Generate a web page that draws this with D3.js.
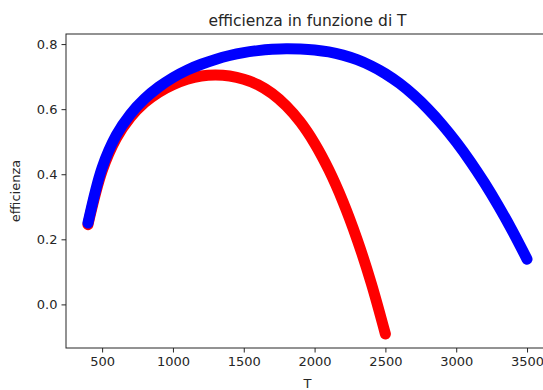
<!DOCTYPE html>
<html>
<head>
<meta charset="utf-8">
<script src="https://cdn.jsdelivr.net/npm/d3@7"></script>
<style>
  body { margin: 0; background: #fff; }
  svg { font-family: "DejaVu Sans", sans-serif; }
</style>
</head>
<body>
<svg id="chart"></svg>
<script>
// temperature samples (x) and efficiency
var tRed  = [400, 500, 600, 700, 800, 900, 1000, 1100, 1200, 1300, 1400, 1500, 1600, 1700, 1800, 1900, 2000, 2100, 2200, 2300, 2400, 2500];
var effRed = [0.245, 0.41, 0.51, 0.575, 0.62, 0.652, 0.675, 0.692, 0.702, 0.705, 0.702, 0.692, 0.675, 0.648, 0.61, 0.56, 0.495, 0.414, 0.316, 0.2, 0.065, -0.091];

var tBlue = [400, 500, 600, 700, 800, 900, 1000, 1100, 1200, 1300, 1400, 1500, 1600, 1700, 1800, 1900, 2000, 2100, 2200, 2300, 2400, 2500, 2600, 2700, 2800, 2900, 3000, 3100, 3200, 3300, 3400, 3500];
var effBlue = [0.25, 0.42, 0.52, 0.585, 0.632, 0.668, 0.697, 0.72, 0.738, 0.753, 0.765, 0.774, 0.78, 0.784, 0.786, 0.785, 0.782, 0.776, 0.766, 0.752, 0.733, 0.709, 0.679, 0.643, 0.601, 0.553, 0.499, 0.439, 0.373, 0.301, 0.223, 0.139];

var xTicks = [500, 1000, 1500, 2000, 2500, 3000, 3500];
var yTicks = [0.0, 0.2, 0.4, 0.6, 0.8];

var W = 543, H = 390;
var margin = {top: 34, right: -6, bottom: 42, left: 66};
var width = W - margin.left - margin.right,
    height = H - margin.top - margin.bottom;

var svg = d3.select("#chart")
    .attr("width", W)
    .attr("height", H);

var g = svg.append("g")
    .attr("transform", "translate(" + margin.left + "," + margin.top + ")");

var x = d3.scaleLinear().domain([245, 3655]).range([0, width]);
var y = d3.scaleLinear().domain([-0.134, 0.831]).range([height, 0]);

function series(ts, vs){
    return ts.map(function(t, i){ return {T: t, eff: vs[i]}; });
}

var line = d3.line()
    .x(function(d){ return x(d.T); })
    .y(function(d){ return y(d.eff); })
    .curve(d3.curveCatmullRom.alpha(0.5));

// red below, blue on top
[[series(tRed, effRed), "#ff0000"], [series(tBlue, effBlue), "#0000ff"]].forEach(function(s){
    g.append("path")
        .datum(s[0])
        .attr("d", line)
        .attr("fill", "none")
        .attr("stroke", s[1])
        .attr("stroke-width", 11)
        .attr("stroke-linecap", "round")
        .attr("stroke-linejoin", "round");
});

// axes
var xAxis = g.append("g")
    .attr("transform", "translate(0," + height + ")")
    .call(d3.axisBottom(x).tickValues(xTicks).tickSize(4.5).tickPadding(4).tickSizeOuter(0).tickFormat(d3.format("d")));
var yAxis = g.append("g")
    .call(d3.axisLeft(y).tickValues(yTicks).tickSize(4.5).tickPadding(4).tickSizeOuter(0).tickFormat(d3.format(".1f")));

[xAxis, yAxis].forEach(function(a){
    a.selectAll("text").attr("font-size", 13).attr("font-family", "DejaVu Sans").attr("fill", "#262626");
    a.selectAll("line").attr("stroke", "#262626").attr("stroke-width", 1);
    a.select(".domain").remove();
});

// frame (spines)
g.append("rect")
    .attr("x", 0).attr("y", 0)
    .attr("width", width).attr("height", height)
    .attr("fill", "none")
    .attr("stroke", "#262626")
    .attr("stroke-width", 1);

// title and labels
g.append("text")
    .attr("x", width / 2).attr("y", -8)
    .attr("text-anchor", "middle")
    .attr("font-size", 15.5)
    .attr("fill", "#262626")
    .text("efficienza in funzione di T");

g.append("text")
    .attr("x", width / 2).attr("y", height + 40)
    .attr("text-anchor", "middle")
    .attr("font-size", 13)
    .attr("fill", "#262626")
    .text("T");

g.append("text")
    .attr("transform", "translate(" + (-46) + "," + (height / 2) + ") rotate(-90)")
    .attr("text-anchor", "middle")
    .attr("font-size", 13)
    .attr("fill", "#262626")
    .text("efficienza");
</script>
</body>
</html>
